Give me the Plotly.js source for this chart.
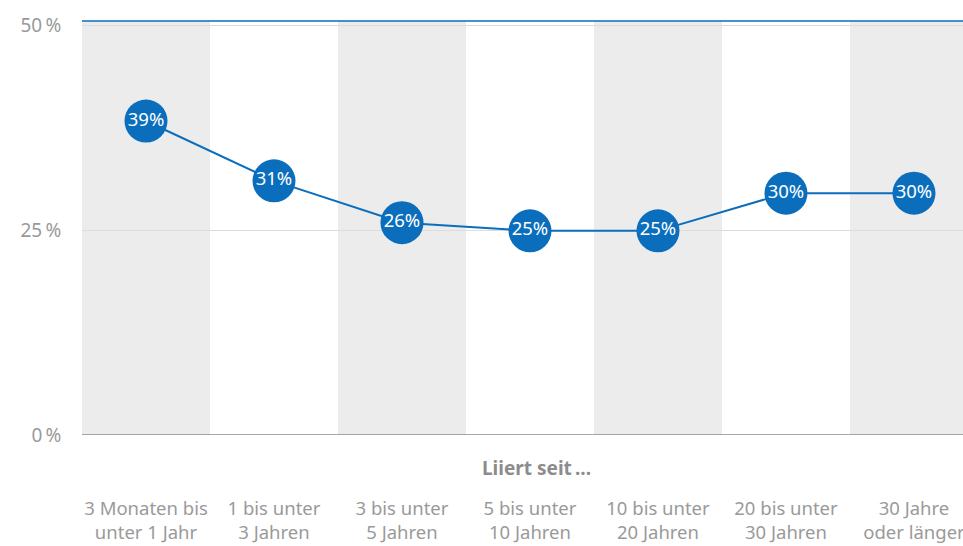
<!DOCTYPE html>
<html>
<head>
<meta charset="utf-8">
<script src="https://cdn.plot.ly/plotly-3.0.1.min.js"></script>
<style>html,body{margin:0;padding:0;background:#fff;}#chart{width:963px;height:546px;}</style>
</head>
<body>
<div id="chart"></div>
<script>
const categories = [
  "3 Monaten bis<br>unter 1 Jahr",
  "1 bis unter<br>3 Jahren",
  "3 bis unter<br>5 Jahren",
  "5 bis unter<br>10 Jahren",
  "10 bis unter<br>20 Jahren",
  "20 bis unter<br>30 Jahren",
  "30 Jahre<br>oder länger"
];
const values = [38.3, 31.0, 25.9, 24.9, 24.9, 29.5, 29.5];
const valueLabels = ["39%", "31%", "26%", "25%", "25%", "30%", "30%"];
const yTickVals = [0, 25, 50];
const yTickText = ["0\u2009%", "25\u2009%", "50\u2009%"];
const xTitle = "Liiert seit\u2009...";

const idx = categories.map((_, i) => i);
const blue = "#0a6ebd";
const FONT = "Noto Sans, Open Sans, sans-serif";

const shapes = [];
idx.forEach(i => {
  if (i % 2 === 0) {
    shapes.push({type: "rect", xref: "x", yref: "paper", x0: i - 0.5, x1: i + 0.5, y0: 0, y1: 1,
      fillcolor: "#ececec", line: {width: 0}, layer: "below"});
  }
});
shapes.push({type: "line", xref: "paper", yref: "paper", x0: 0, x1: 1, y0: 1, y1: 1,
  line: {color: blue, width: 1.5}});
shapes.push({type: "line", xref: "paper", yref: "y", x0: 0, x1: 1, y0: 0, y1: 0,
  line: {color: "#8c8c8c", width: 1.5}});

const trace = {
  x: idx,
  y: values,
  type: "scatter",
  mode: "lines+markers+text",
  line: {color: blue, width: 2},
  marker: {size: 43, color: blue, line: {width: 0}},
  text: valueLabels,
  textposition: "middle center",
  textfont: {color: "#ffffff", size: 18.5, family: FONT},
  hoverinfo: "skip",
  cliponaxis: false
};

const layout = {
  width: 963, height: 546,
  margin: {l: 82, r: 0, t: 21, b: 111},
  paper_bgcolor: "#ffffff",
  plot_bgcolor: "rgba(0,0,0,0)",
  showlegend: false,
  font: {family: FONT, color: "#999999", size: 19},
  xaxis: {
    range: [-0.5, 6.383],
    tickvals: idx,
    ticktext: categories,
    showgrid: false, zeroline: false, showline: false,
    ticks: "outside", ticklen: 57, tickcolor: "rgba(0,0,0,0)",
    tickfont: {size: 18.5, color: "#9a9a9a", family: FONT},
    ticklabeloverflow: "allow",
    fixedrange: true
  },
  yaxis: {
    range: [0, 50.5],
    tickvals: yTickVals,
    ticktext: yTickText,
    showgrid: true, gridcolor: "#dcdcdc", gridwidth: 1,
    zeroline: false, showline: false,
    ticks: "outside", ticklen: 16, tickcolor: "rgba(0,0,0,0)",
    tickfont: {size: 19, color: "#9a9a9a", family: FONT},
    fixedrange: true
  },
  shapes: shapes,
  annotations: [{
    xref: "x", yref: "paper", x: 3.05, y: 0, yshift: -33,
    text: "<b>" + xTitle + "</b>", showarrow: false,
    xanchor: "center", yanchor: "middle",
    font: {size: 19, color: "#8c8c8c", family: FONT}
  }]
};

Plotly.newPlot("chart", [trace], layout, {displayModeBar: false, staticPlot: true});
</script>
</body>
</html>
